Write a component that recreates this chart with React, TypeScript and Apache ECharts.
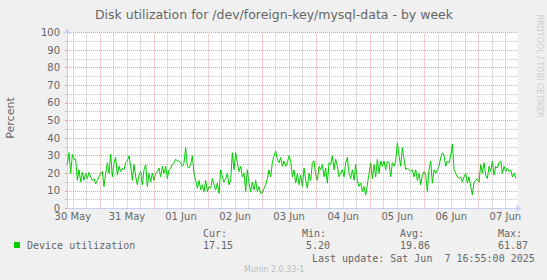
import React, { useEffect, useRef } from "react";
import * as echarts from "echarts";

const TITLE = "Disk utilization for /dev/foreign-key/mysql-data - by week";
const Y_NAME = "Percent";
const SERIES_NAME = "Device utilization";
const WATERMARK = "RRDTOOL / TOBI OETIKER";
const FOOTER = "Munin 2.0.33-1";
const LAST_UPDATE = "Last update: Sat Jun  7 16:55:00 2025";

// x axis in hours since 30 May 00:00
const X_MIN = 9.4;
const X_MAX = 209.4;
const DAY_LABEL_HOURS = [12, 36, 60, 84, 108, 132, 156, 180, 204];
const DAY_LABELS = ["30 May", "31 May", "01 Jun", "02 Jun", "03 Jun", "04 Jun", "05 Jun", "06 Jun", "07 Jun"];
const MIDNIGHT_HOURS = [24, 48, 72, 96, 120, 144, 168, 192];
const SIX_HOUR_HOURS = [12, 18, 30, 36, 42, 54, 60, 66, 78, 84, 90, 102, 108, 114, 126, 132, 138, 150, 156, 162, 174, 180, 186, 198, 204];

const Y_MIN = 0;
const Y_MAX = 100;
const Y_STEP = 10;

const STAT_LABELS = ["Cur:", "Min:", "Avg:", "Max:"];
const STAT_VALUES = ["17.15", "5.20", "19.86", "61.87"];

// samples every 0.74 h starting at 9.55 h
const DATA_START_HOUR = 9.55;
const DATA_STEP_HOUR = 0.74;
const UTILIZATION = [
  25, 31.7, 20, 30.8, 28, 28, 16, 22, 15, 20.5,
  16, 20, 17, 20.5, 18, 16, 17, 14, 16, 18,
  20, 21, 12.5, 20, 26, 20, 30.8, 18, 26, 29,
  19, 24, 21, 23, 22, 26, 27, 30, 24, 16,
  25, 18, 13.5, 19, 21, 13.5, 22, 25, 12.5, 20,
  15, 20, 16, 20, 21, 23, 18, 24, 20, 24,
  17, 22, 23, 25, 26, 28, 27, 27, 26, 24,
  26, 34.6, 24, 23, 25, 30, 20, 16, 11.5, 16,
  10.6, 13.5, 9.6, 16, 9.6, 12.5, 11.5, 17, 13.5, 10.6,
  14.4, 8.7, 22, 18, 15, 17, 20, 13.5, 16, 31.7,
  22, 31.7, 26, 21, 24, 18, 20, 9.6, 22, 14.4,
  9.6, 15, 10.6, 16, 9.6, 12.5, 8.7, 8.7, 11.5, 13.5,
  17, 22, 18, 26, 30, 32.7, 28, 26, 29, 24,
  27, 24, 26, 30, 27, 18, 22, 14.4, 20, 13.5,
  19, 12.5, 23, 16, 11.5, 20, 16, 26, 27, 19,
  16, 24, 22, 25, 18, 23, 14.4, 26, 25, 30,
  22, 28, 24, 18, 20, 22, 18, 26, 29, 20,
  17, 22, 16, 25, 16, 12.5, 14.4, 9.6, 12.5, 7.7,
  13.5, 20, 26, 17, 25, 18, 28, 20, 27, 24,
  27, 22, 27, 26, 18, 26, 24, 27, 37.5, 30,
  24, 34.6, 28, 22, 23, 22, 21, 22, 18, 22,
  16, 20, 13.5, 19, 21, 19, 9.6, 22, 27, 14.4,
  22, 20, 22, 24, 29, 31.7, 30, 24, 27, 26,
  30, 36.5, 22, 20, 18, 17, 18, 15, 18, 20,
  14.4, 18, 12.5, 7.7, 15, 16, 17, 15, 25, 20,
  26, 19, 17, 24, 21, 27, 19, 24, 23, 26,
  27, 20, 24, 21, 23, 21, 22, 18, 20, 17.15,
];

const GREEN = "#00cc00";
const TEXT = "#666666";
const AXIS = "#c8cef6";
const MGRID = "rgba(222,79,79,0.55)";
const GRID = "rgba(143,143,143,0.55)";

export default function App() {
  const ref = useRef<HTMLDivElement>(null);
  useEffect(() => {
    if (!ref.current) return;
    const chart = echarts.init(ref.current, undefined, { renderer: "svg" });
    const seriesData = UTILIZATION.map((v, i) => [DATA_START_HOUR + i * DATA_STEP_HOUR, v]);
    const vline = (h: number, color: string) => ({
      xAxis: h,
      lineStyle: { color, type: [1, 1], width: 1 },
    });
    const mono = "'DejaVu Sans Mono', monospace";
    const sans = "'DejaVu Sans', sans-serif";
    const t = (text: string, x: number, y: number, opts: any = {}) => ({
      type: "text",
      x,
      y,
      silent: true,
      style: {
        text,
        fill: opts.fill || TEXT,
        font: `${opts.size || 10}px ${opts.family || mono}`,
        textAlign: opts.align || "left",
        textVerticalAlign: "middle",
      },
      rotation: opts.rotation || 0,
    });
    const statX = [203, 302, 400, 498];
    const statValX = [203, 306, 400, 498];
    chart.setOption({
      animation: false,
      backgroundColor: "#f0f0f0",
      grid: { left: 67, top: 32.5, width: 450.5, height: 176, backgroundColor: "#ffffff", show: true, borderWidth: 0 },
      xAxis: {
        type: "value",
        min: X_MIN,
        max: X_MAX,
        splitLine: { show: false },
        axisLine: { show: true, lineStyle: { color: AXIS, width: 1 }, symbol: ["none", "arrow"], symbolSize: [6, 6], symbolOffset: [0, 4] },
        axisTick: { show: false },
        axisLabel: {
          customValues: DAY_LABEL_HOURS,
          formatter: (v: number) => DAY_LABELS[DAY_LABEL_HOURS.indexOf(v)] ?? "",
          color: TEXT,
          fontFamily: sans,
          fontSize: 10,
          margin: 3,
        },
      },
      yAxis: {
        type: "value",
        min: Y_MIN,
        max: Y_MAX,
        interval: Y_STEP,
        axisLine: { show: true, lineStyle: { color: AXIS, width: 1 }, symbol: ["none", "arrow"], symbolSize: [6, 6], symbolOffset: [0, 4] },
        axisTick: { show: true, length: 2, lineStyle: { color: MGRID } },
        minorTick: { show: true, splitNumber: 2, length: 2, lineStyle: { color: GRID } },
        splitLine: { show: true, lineStyle: { color: MGRID, type: [1, 1], width: 1 } },
        minorSplitLine: { show: true, lineStyle: { color: GRID, type: [1, 1], width: 1 } },
        axisLabel: { color: TEXT, fontFamily: sans, fontSize: 10, margin: 7 },
      },
      series: [
        {
          type: "line",
          data: [],
          z: 1,
          silent: true,
          markLine: {
            silent: true,
            symbol: ["none", "none"],
            label: { show: false },
            animation: false,
            data: [
              ...SIX_HOUR_HOURS.map((h) => vline(h, GRID)),
              ...MIDNIGHT_HOURS.map((h) => vline(h, MGRID)),
            ],
          },
        },
        {
          name: SERIES_NAME,
          type: "line",
          data: seriesData,
          showSymbol: false,
          z: 3,
          lineStyle: { color: GREEN, width: 1 },
          itemStyle: { color: GREEN },
        },
      ],
      graphic: [
        t(TITLE, 274, 14.5, { family: sans, size: 12.5, align: "center" }),
        t(Y_NAME, 10.5, 118, { family: sans, size: 11, align: "center", rotation: Math.PI / 2 }),
        t(WATERMARK, 539.5, 66, { family: sans, size: 8, align: "center", rotation: -Math.PI / 2, fill: "#cccccc" }),
        { type: "rect", shape: { x: 14, y: 242, width: 6, height: 6 }, style: { fill: GREEN }, silent: true },
        t(SERIES_NAME, 27, 245.5),
        ...STAT_LABELS.map((s, i) => t(s, statX[i], 233.5)),
        ...STAT_VALUES.map((s, i) => t(s, statValX[i], 245.5)),
        t(LAST_UPDATE, 312, 258),
        t(FOOTER, 244, 269.5, { family: sans, size: 8, fill: "#bbbbbb" }),
      ],
    });
    return () => chart.dispose();
  }, []);
  return <div ref={ref} style={{ width: 547, height: 280, position: "absolute", left: 0, top: 0 }} />;
}
